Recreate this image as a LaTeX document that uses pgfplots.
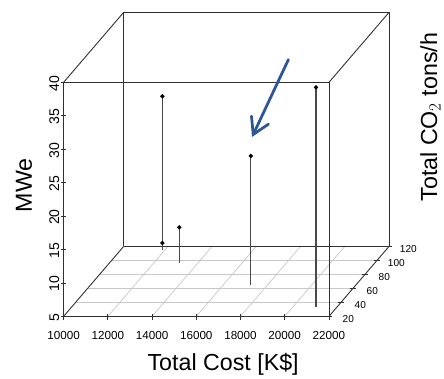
\documentclass[border=0pt]{standalone}
\usepackage{pgfplots}
\pgfplotsset{compat=1.18}
\usepackage{pgfplotstable}
\usepackage{fontspec}
\setmainfont{Liberation Sans}
\usetikzlibrary{arrows.meta}
\definecolor{arrowblue}{HTML}{2B5797}
\definecolor{gridgray}{HTML}{C8C8C8}
\definecolor{boxgray}{HTML}{303030}
\definecolor{dropgray}{HTML}{4A4A4A}

% x = Total Cost in thousands of K$, y = Total CO2 tons/h, z = MWe
\pgfplotstableread{
x y z
11.91 114.3 28.07
11.91 114.3 6.12
13.15 96.8 10.28
17.25 64.8 24.31
21.03 34.1 37.78
}\pointdata

\begin{document}
\begin{tikzpicture}
\begin{axis}[
  x={(22.367pt,0pt)}, y={(0.607pt,0.707pt)}, z={(0pt,6.763pt)},
  xmin=10, xmax=22, ymin=20, ymax=120, zmin=5, zmax=40,
  hide axis, clip=false,
]
% bounding box of the whole picture (444 x 378)
\path ([xshift=-64.3pt,yshift=-58pt]axis cs:10,20,5) rectangle ([xshift=379.7pt,yshift=320pt]axis cs:10,20,5);

% floor grid
\pgfplotsinvokeforeach{40,60,80,100}{
  \addplot3[gridgray, line width=0.7pt] coordinates {(10,#1,5) (22,#1,5)};
}
\pgfplotsinvokeforeach{12,14,16,18,20}{
  \addplot3[gridgray, line width=0.7pt] coordinates {(#1,20,5) (#1,120,5)};
}

% box
\addplot3[boxgray, line width=0.9pt] coordinates {(10,20,5) (22,20,5) (22,20,40) (10,20,40) (10,20,5)};
\addplot3[boxgray, line width=0.9pt] coordinates {(10,120,5) (22,120,5) (22,120,40) (10,120,40) (10,120,5)};
\addplot3[boxgray, line width=0.9pt] coordinates {(10,20,5) (10,120,5)};
\addplot3[boxgray, line width=0.9pt] coordinates {(22,20,5) (22,120,5)};
\addplot3[boxgray, line width=0.9pt] coordinates {(10,20,40) (10,120,40)};
\addplot3[boxgray, line width=0.9pt] coordinates {(22,20,40) (22,120,40)};

% x ticks
\pgfplotsinvokeforeach{10,12,14,16,18,20,22}{
  \draw[boxgray, line width=0.9pt] ([yshift=2pt]axis cs:#1,20,5) -- ([yshift=-4pt]axis cs:#1,20,5);
  \node[anchor=base, font=\fontsize{11.8}{13}\selectfont] at ([yshift=-23.3pt]axis cs:#1,20,5) {#1000};
}
% z ticks
\pgfplotsinvokeforeach{5,10,15,20,25,30,35,40}{
  \draw[boxgray, line width=0.9pt] ([xshift=-2.5pt]axis cs:10,20,#1) -- ([xshift=2.5pt]axis cs:10,20,#1);
  \node[anchor=base, rotate=90, font=\fontsize{14.2}{16}\selectfont] at ([xshift=-4.5pt,yshift=-1pt]axis cs:10,20,#1) {#1};
}
% y ticks
\pgfplotsinvokeforeach{20,40,60,80,100,120}{
  \draw[boxgray, line width=0.9pt] ([xshift=-3.3pt]axis cs:22,#1,5) -- ([xshift=3.3pt]axis cs:22,#1,5);
  \node[anchor=center, font=\fontsize{10.2}{12}\selectfont] at ([xshift=19.6pt,yshift=-2.3pt]axis cs:22,#1,5) {#1};
}

% axis labels
\node[anchor=base, font=\fontsize{23.5}{26}\selectfont] at ([xshift=161.4pt,yshift=-55pt]axis cs:10,20,5) {Total Cost [K\$]};
\node[anchor=base, rotate=90, font=\fontsize{23.5}{26}\selectfont] at ([xshift=-32pt,yshift=132.5pt]axis cs:10,20,5) {MWe};
\node[anchor=base, rotate=90, font=\fontsize{23.5}{26}\selectfont] at ([xshift=377.7pt,yshift=201.5pt]axis cs:10,20,5) {Total CO$_2$ tons/h};

% drop lines
\addplot3[dropgray, line width=1.1pt] coordinates {(11.91,114.3,5) (11.91,114.3,28.07)};
\addplot3[dropgray, line width=1.1pt] coordinates {(13.15,96.8,5) (13.15,96.8,10.28)};
\addplot3[dropgray, line width=1.1pt] coordinates {(17.25,64.8,5) (17.25,64.8,24.31)};
\addplot3[dropgray, line width=1.1pt] coordinates {(21.03,34.1,5) (21.03,34.1,37.78)};

% points
\addplot3[only marks, mark=*, mark size=2pt, black] table[x=x, y=y, z=z] {\pointdata};

% arrow
\draw[arrowblue, line width=2.8pt, line cap=round, -{Straight Barb[length=16pt, width=19pt, line cap=round]}] (axis cs:20.166,20,43.4) -- (axis cs:18.525,20,31.84);
\end{axis}
\end{tikzpicture}
\end{document}
